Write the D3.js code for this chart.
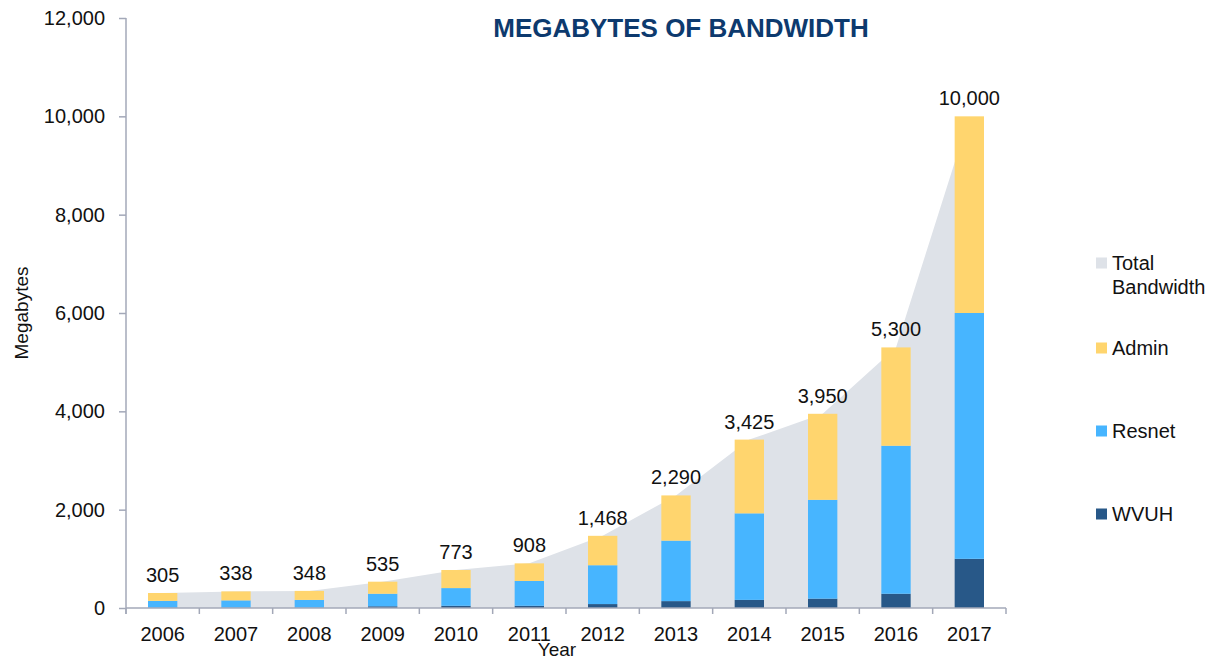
<!DOCTYPE html>
<html>
<head>
<meta charset="utf-8">
<script src="https://cdn.jsdelivr.net/npm/d3@7"></script>
<style>
  body { margin: 0; background: #fff; }
  text { font-family: "Liberation Sans", Arial, Helvetica, sans-serif; }
</style>
</head>
<body>
<div id="chart"></div>
<script>
// Data
const years = ['2006', '2007', '2008', '2009', '2010', '2011', '2012', '2013', '2014', '2015', '2016', '2017']
const wvuh = [5, 5, 5, 35, 45, 45, 80, 140, 165, 190, 290, 1000]
const resnet = [140, 150, 160, 255, 360, 505, 790, 1230, 1760, 2010, 3010, 5000]
const admin = [160, 183, 183, 245, 368, 358, 598, 920, 1500, 1750, 2000, 4000]
const totals = [305, 338, 348, 535, 773, 908, 1468, 2290, 3425, 3950, 5300, 10000]
const yTicks = [0, 2000, 4000, 6000, 8000, 10000, 12000]
const seriesKeys = ['WVUH', 'Resnet', 'Admin']
const legendItems = ['Total Bandwidth', 'Admin', 'Resnet', 'WVUH']

function draw() {
  // Dimensions
  const width = 1219
  const height = 662
  const left = 126, right = 1006, top = 18, bottom = 608

  const colors = {
    'Total Bandwidth': '#dee2e8',
    'Admin': '#ffd56e',
    'Resnet': '#47b5ff',
    'WVUH': '#285888'
  }
  const axisColor = '#a3a8b8'

  const svg = d3.select('#chart')
    .append('svg')
    .attr('width', width)
    .attr('height', height)

  // Scales
  const x = d3.scaleBand()
    .domain(years)
    .range([left, right])
    .padding(0)

  const y = d3.scaleLinear()
    .domain([0, 12000])
    .range([bottom, top])

  const bw = x.bandwidth()
  const fmt = d3.format(',')

  // table for the stack
  const rows = years.map((yr, i) => ({
    year: yr, WVUH: wvuh[i], Resnet: resnet[i], Admin: admin[i], total: totals[i]
  }))

  // Total bandwidth area
  const area = d3.area()
    .x(d => x(d.year) + bw / 2)
    .y0(y(0))
    .y1(d => y(d.total))

  svg.append('path')
    .datum(rows)
    .attr('d', area)
    .attr('fill', colors['Total Bandwidth'])

  // Stacked bars
  const stacked = d3.stack().keys(seriesKeys)(rows)

  svg.append('g')
    .selectAll('g')
    .data(stacked)
    .join('g')
    .attr('fill', d => colors[d.key])
    .selectAll('rect')
    .data(d => d)
    .join('rect')
    .attr('x', d => x(d.data.year) + bw * 0.3)
    .attr('width', bw * 0.4)
    .attr('y', d => y(d[1]))
    .attr('height', d => y(d[0]) - y(d[1]))

  // Value labels
  svg.append('g')
    .selectAll('text')
    .data(rows)
    .join('text')
    .attr('x', d => x(d.year) + bw / 2)
    .attr('y', d => y(d.total) - 11)
    .attr('text-anchor', 'middle')
    .attr('font-size', 20)
    .attr('fill', '#111')
    .text(d => fmt(d.total))

  // Y axis
  const yAxis = svg.append('g')
    .attr('transform', `translate(${left},0)`)
    .call(d3.axisLeft(y).tickValues(yTicks).tickFormat(fmt).tickSize(7).tickPadding(14))
  yAxis.select('.domain').remove()
  yAxis.selectAll('line').attr('stroke', axisColor).attr('stroke-width', 1.5)
  yAxis.selectAll('text').attr('font-size', 20).attr('fill', '#111')
    .style('font-family', '"Liberation Sans", Arial, sans-serif')

  svg.append('line')
    .attr('x1', left).attr('x2', left)
    .attr('y1', top).attr('y2', bottom + 6)
    .attr('stroke', axisColor).attr('stroke-width', 1.5)

  // X axis
  const xAxis = svg.append('g')
    .attr('transform', `translate(0,${bottom})`)
    .call(d3.axisBottom(x).tickSize(0).tickPadding(19))
  xAxis.select('.domain').remove()
  xAxis.selectAll('text').attr('font-size', 20).attr('fill', '#111')
    .style('font-family', '"Liberation Sans", Arial, sans-serif')

  svg.append('line')
    .attr('x1', left).attr('x2', right)
    .attr('y1', bottom).attr('y2', bottom)
    .attr('stroke', axisColor).attr('stroke-width', 1.5)

  const bounds = years.map(d => x(d)).concat([right])
  svg.append('g')
    .selectAll('line')
    .data(bounds)
    .join('line')
    .attr('x1', d => d).attr('x2', d => d)
    .attr('y1', bottom).attr('y2', bottom + 6)
    .attr('stroke', axisColor).attr('stroke-width', 1.5)

  // Axis titles
  svg.append('text')
    .attr('x', 557)
    .attr('y', 656)
    .attr('text-anchor', 'middle')
    .attr('font-size', 19)
    .attr('fill', '#111')
    .text('Year')

  svg.append('text')
    .attr('transform', `translate(28, 313) rotate(-90)`)
    .attr('text-anchor', 'middle')
    .attr('font-size', 19)
    .attr('fill', '#111')
    .text('Megabytes')

  // Title
  svg.append('text')
    .attr('x', 681)
    .attr('y', 37)
    .attr('text-anchor', 'middle')
    .attr('font-size', 26)
    .attr('font-weight', 'bold')
    .attr('fill', '#0d3a6e')
    .text('MEGABYTES OF BANDWIDTH')

  // Legend
  const legendY = [263, 348, 431, 514]
  const legend = svg.append('g')
    .selectAll('g')
    .data(legendItems)
    .join('g')
    .attr('transform', (d, i) => `translate(1096, ${legendY[i]})`)

  legend.append('rect')
    .attr('x', 0).attr('y', -5.5)
    .attr('width', 11).attr('height', 11)
    .attr('fill', d => colors[d])

  legend.append('text')
    .attr('x', 16)
    .attr('y', 7)
    .attr('font-size', 20)
    .attr('fill', '#111')
    .call(txt => txt.each(function (d) {
      const words = d.split(' ')
      d3.select(this).selectAll('tspan')
        .data(words)
        .join('tspan')
        .attr('x', 16)
        .attr('dy', (w, j) => j === 0 ? 0 : 24)
        .text(w => w)
    }))
}

draw()
</script>
</body>
</html>
